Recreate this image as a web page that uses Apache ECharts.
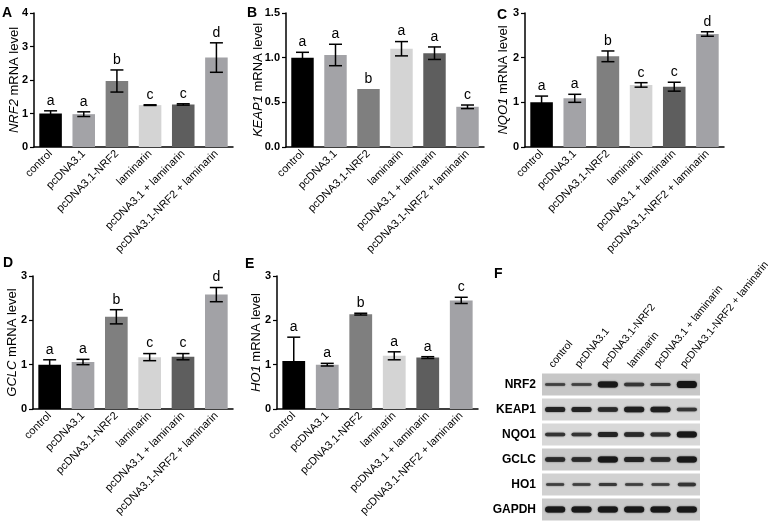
<!DOCTYPE html>
<html><head><meta charset="utf-8">
<script src="https://cdn.jsdelivr.net/npm/echarts@6/dist/echarts.min.js"></script>
<style>html,body{margin:0;padding:0;background:#fff}#c{width:768px;height:524px}</style>
</head><body><div id="c"></div>
<script>
// ---------- data ----------
const categories = ['control','pcDNA3.1','pcDNA3.1-NRF2','laminarin','pcDNA3.1 + laminarin','pcDNA3.1-NRF2 + laminarin'];

const nrf2Mean = [1.00, 0.98, 1.97, 1.25, 1.27, 2.67];
const nrf2Err  = [0.08, 0.07, 0.33, 0.01, 0.02, 0.44];
const nrf2Sig  = ['a','a','b','c','c','d'];

const keap1Mean = [1.00, 1.03, 0.65, 1.10, 1.05, 0.45];
const keap1Err  = [0.06, 0.12, 0.00, 0.08, 0.07, 0.02];
const keap1Sig  = ['a','a','b','a','a','c'];

const nqo1Mean = [1.00, 1.09, 2.03, 1.39, 1.35, 2.53];
const nqo1Err  = [0.14, 0.09, 0.12, 0.05, 0.10, 0.05];
const nqo1Sig  = ['a','a','b','c','c','d'];

const gclcMean = [1.00, 1.06, 2.08, 1.17, 1.18, 2.58];
const gclcErr  = [0.11, 0.06, 0.16, 0.08, 0.07, 0.16];
const gclcSig  = ['a','a','b','c','c','d'];

const ho1Mean = [1.08, 1.00, 2.14, 1.20, 1.16, 2.45];
const ho1Err  = [0.54, 0.03, 0.02, 0.09, 0.02, 0.07];
const ho1Sig  = ['a','a','b','a','a','c'];

const yTicksA = [0, 1, 2, 3, 4];
const yTicksB = [0.0, 0.5, 1.0, 1.5];
const yTicks3 = [0, 1, 2, 3];

// western blot band thickness (relative intensity) per lane
const blotProteins = ['NRF2','KEAP1','NQO1','GCLC','HO1','GAPDH'];
const bandNRF2  = [2.5, 2.5, 6.0, 3.5, 3.0, 7.0];
const bandKEAP1 = [5.0, 5.0, 4.5, 5.5, 5.5, 3.5];
const bandNQO1  = [3.5, 3.5, 5.0, 4.5, 4.0, 6.0];
const bandGCLC  = [4.5, 4.5, 6.0, 5.0, 4.5, 6.0];
const bandHO1   = [2.5, 2.5, 3.0, 2.5, 2.5, 3.5];
const bandGAPDH = [6.0, 6.0, 6.0, 6.0, 6.0, 6.0];
const blotBands = [bandNRF2, bandKEAP1, bandNQO1, bandGCLC, bandHO1, bandGAPDH];

// ---------- styles ----------
const FONT = '"Liberation Sans", Arial, sans-serif';
const barColors = ['#000000','#a3a3a7','#7f7f7f','#d4d4d4','#5e5e5e','#a2a2a6'];
const rowShade = ['#c7c7c7','#d3d3d3','#d8d8d8','#c9c9c9','#d1d1d1','#c9c9c9'];

const panels = [
  {name:'NRF2',  mean:nrf2Mean,  err:nrf2Err,  sig:nrf2Sig,  ticks:yTicksA, dec:0, grid:{left:34, top:13, width:199, height:134}, gap:13},
  {name:'KEAP1', mean:keap1Mean, err:keap1Err, sig:keap1Sig, ticks:yTicksB, dec:1, grid:{left:286, top:13, width:198, height:134}, gap:21},
  {name:'NQO1',  mean:nqo1Mean,  err:nqo1Err,  sig:nqo1Sig,  ticks:yTicks3, dec:0, grid:{left:525, top:13, width:199, height:134}, gap:15},
  {name:'GCLC',  mean:gclcMean,  err:gclcErr,  sig:gclcSig,  ticks:yTicks3, dec:0, grid:{left:33, top:276, width:200, height:133}, gap:14},
  {name:'HO1',   mean:ho1Mean,   err:ho1Err,   sig:ho1Sig,   ticks:yTicks3, dec:0, grid:{left:277, top:276, width:201, height:133}, gap:14}
];

const grids = [], xAxes = [], yAxes = [], series = [];

panels.forEach((p, gi) => {
  grids.push(Object.assign({outerBoundsMode:'none', containLabel:false}, p.grid));
  xAxes.push({
    type:'category', gridIndex:gi, data:categories,
    axisLine:{lineStyle:{color:'#000', width:1.5}},
    axisTick:{alignWithLabel:true, length:3, lineStyle:{color:'#000', width:1}},
    axisLabel:{rotate:45, margin:5, interval:0, color:'#000', fontSize:11, fontFamily:FONT}
  });
  const mn = p.ticks[0], mx = p.ticks[p.ticks.length-1];
  yAxes.push({
    type:'value', gridIndex:gi, min:mn, max:mx, interval:p.ticks[1]-p.ticks[0],
    splitLine:{show:false},
    axisLine:{show:true, lineStyle:{color:'#000', width:1.5}},
    axisTick:{show:true, length:4, lineStyle:{color:'#000', width:1.2}},
    axisLabel:{margin:6, color:'#000', fontSize:11, fontWeight:'bold', fontFamily:FONT,
      formatter: v => v.toFixed(p.dec)},
    name:'{i|' + p.name + '} mRNA level', nameLocation:'middle', nameGap:p.gap, nameMoveOverlap:false,
    nameTextStyle:{color:'#000', fontSize:13, fontFamily:FONT,
      rich:{i:{fontStyle:'italic', fontSize:13, fontFamily:FONT, color:'#000'}}}
  });
  series.push({
    type:'bar', xAxisIndex:gi, yAxisIndex:gi, barWidth:'68%',
    data:p.mean.map((v,i)=>({value:v, itemStyle:{color:barColors[i]}})),
    silent:true, animation:false
  });
  series.push({
    type:'custom', xAxisIndex:gi, yAxisIndex:gi, z:5, animation:false, silent:true,
    data:p.mean.map((v,i)=>[i, v, p.err[i]]),
    renderItem(params, api){
      const i = api.value(0), m = api.value(1), e = api.value(2);
      const top = api.coord([i, m + e]), bot = api.coord([i, m - e]);
      const x = top[0], hw = 6.5;
      const ls = {stroke:'#000', lineWidth:1.5};
      const ch = [];
      if (e > 0) {
        ch.push({type:'line', shape:{x1:x, y1:top[1], x2:x, y2:bot[1]}, style:ls});
        ch.push({type:'line', shape:{x1:x-hw, y1:top[1], x2:x+hw, y2:top[1]}, style:ls});
        ch.push({type:'line', shape:{x1:x-hw, y1:bot[1], x2:x+hw, y2:bot[1]}, style:ls});
      }
      ch.push({type:'text', style:{text:p.sig[params.dataIndex], x:x, y:top[1]-3,
        align:'center', verticalAlign:'bottom', fontSize:14, fontFamily:FONT, fill:'#000'}});
      return {type:'group', children:ch};
    }
  });
});

// ---------- western blot (panel F) ----------
const bg = grids.length;
grids.push({left:542, top:372, width:158, height:150, outerBoundsMode:'none', containLabel:false});
xAxes.push({
  type:'category', gridIndex:bg, data:categories, position:'top',
  axisLine:{show:false}, axisTick:{show:false},
  axisLabel:{rotate:-51, margin:2, interval:0, color:'#000', fontSize:10.5, fontFamily:FONT,
    verticalAlign:'bottom'}
});
yAxes.push({
  type:'category', gridIndex:bg, data:blotProteins, inverse:true,
  axisLine:{show:false}, axisTick:{show:false}, splitLine:{show:false},
  axisLabel:{margin:6, color:'#000', fontSize:12, fontWeight:'bold', fontFamily:FONT}
});
series.push({
  type:'custom', xAxisIndex:bg, yAxisIndex:bg, animation:false, silent:true, z:1,
  data:blotProteins.map((p,r)=>[0, r]),
  renderItem(params, api){
    const c = api.coord([0, api.value(1)]);
    const cs = params.coordSys;
    return {type:'rect', shape:{x:cs.x, y:c[1]-11, width:cs.width, height:22},
      style:{fill:rowShade[params.dataIndex]}};
  }
});
const bandData = [];
blotBands.forEach((row, r) => row.forEach((t, l) => bandData.push([l, r, t])));
series.push({
  type:'custom', xAxisIndex:bg, yAxisIndex:bg, animation:false, silent:true, z:2,
  data:bandData,
  renderItem(params, api){
    const c = api.coord([api.value(0), api.value(1)]);
    const t = api.value(2);
    const w = api.value(1) === 4 ? 18 : 20;
    const shade = Math.round(Math.max(20, 90 - t * 11));
    const col = 'rgb(' + shade + ',' + shade + ',' + shade + ')';
    return {type:'rect', shape:{x:c[0]-w/2, y:c[1]-t/2, width:w, height:t, r:t/2},
      style:{fill:col, shadowBlur:1.5, shadowColor:col}};
  }
});

const labelText = (t, x, y) => ({type:'text', left:x, top:y,
  style:{text:t, fontSize:14, fontWeight:'bold', fontFamily:FONT, fill:'#000'}});

const chart = echarts.init(document.getElementById('c'), null, {renderer:'canvas'});
chart.setOption({
  animation:false,
  backgroundColor:'#fff',
  grid:grids, xAxis:xAxes, yAxis:yAxes, series:series,
  graphic:[
    labelText('A', 2, 6), labelText('B', 247, 6), labelText('C', 497, 8),
    labelText('D', 3, 256), labelText('E', 245, 257), labelText('F', 494, 267)
  ]
});
</script></body></html>
